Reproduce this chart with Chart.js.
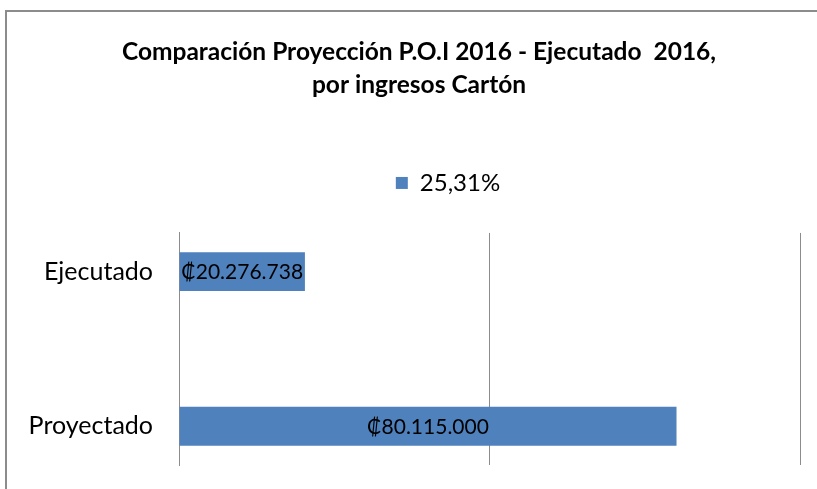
<!DOCTYPE html>
<html>
<head>
<meta charset="utf-8">
<script src="https://cdn.jsdelivr.net/npm/chart.js@4"></script>
<style>
    body { margin: 0; background: #fff; }
    canvas { display: block; }
</style>
</head>
<body>
<canvas id="myChart" width="817" height="489"></canvas>
<script>
/*-----------------------------Data-------------------------------------------------*/
// empty middle slot keeps the two bars apart the way the original sheet does
const categories = ['Ejecutado', '', 'Proyectado'];
const ingresos = [20276738, null, 80115000];
const seriesLabel = '25,31%';
const axisMax = 100000000;
const axisStep = 50000000;
const titleLines = ['Comparación Proyección P.O.I 2016 - Ejecutado  2016,', 'por ingresos Cartón'];

const barColor = '#4F81BD';
const lineColor = '#8C8C8C';
const fontFamily = 'Lato, "Liberation Sans", sans-serif';

function colones(v) {
    return '₡' + String(v).replace(/\B(?=(\d{3})+(?!\d))/g, '.');
}

/*-----------------------------Plugins-------------------------------------------------*/
const frame = {
    id: 'frame',
    beforeDraw(chart) {
        const c = chart.ctx;
        c.save();
        c.fillStyle = '#fff';
        c.fillRect(0, 0, chart.width, chart.height);
        c.strokeStyle = lineColor;
        c.lineWidth = 2;
        c.strokeRect(6, 11, chart.width + 20, chart.height + 20);
        c.restore();
    }
};

const legendGap = {
    id: 'legendGap',
    beforeInit(chart) {
        const fit = chart.legend.fit;
        chart.legend.fit = function () {
            fit.bind(chart.legend)();
            this.height += 28;
        };
    },
    afterLayout(chart) {
        // title and legend sit a bit right of centre in the original
        chart.titleBlock.left += 19;
        chart.titleBlock.right += 19;
        chart.legend.left += 48;
        chart.legend.right += 48;
    }
};

const barLabels = {
    id: 'barLabels',
    afterDatasetsDraw(chart) {
        const c = chart.ctx;
        c.save();
        c.font = '21px ' + fontFamily;
        c.fillStyle = '#000';
        c.textAlign = 'center';
        c.textBaseline = 'middle';
        chart.data.datasets.forEach(function (ds, i) {
            chart.getDatasetMeta(i).data.forEach(function (bar, j) {
                if (ds.data[j] == null) return;
                c.fillText(colones(ds.data[j]), (bar.x + bar.base) / 2, bar.y + 1);
            });
        });
        c.restore();
    }
};

/*-----------------------------Chart-------------------------------------------------*/
let ctx = document.getElementById('myChart').getContext('2d');

let barChart = new Chart(ctx, {
    type: 'bar',
    data: {
        labels: categories,
        datasets: [{
            label: seriesLabel,
            data: ingresos,
            backgroundColor: barColor,
            categoryPercentage: 1,
            barPercentage: 0.504
        }]
    },
    options: {
        indexAxis: 'y',
        responsive: false,
        animation: false,
        layout: {
            padding: { left: 0, right: 17, top: 0, bottom: 24 }
        },
        scales: {
            x: {
                min: 0,
                max: axisMax,
                ticks: { display: false, stepSize: axisStep },
                grid: { color: lineColor, lineWidth: 1, drawTicks: false },
                border: { display: false }
            },
            y: {
                grid: {
                    display: true,
                    drawOnChartArea: false,
                    drawTicks: true,
                    tickLength: 26,
                    tickColor: 'rgba(0,0,0,0)',
                    color: 'rgba(0,0,0,0)'
                },
                border: { display: true, color: lineColor, width: 1 },
                ticks: {
                    color: '#000',
                    padding: 0,
                    font: { family: fontFamily, size: 25 }
                },
                afterFit: function (scale) {
                    scale.width = 179;
                }
            }
        },
        plugins: {
            title: {
                display: true,
                text: titleLines,
                color: '#000',
                font: { family: fontFamily, size: 24.5, weight: 'bold', lineHeight: 1.35 },
                padding: { top: 35.5, bottom: 44.3 }
            },
            legend: {
                display: true,
                position: 'top',
                labels: {
                    color: '#000',
                    boxWidth: 12,
                    boxHeight: 12,
                    padding: 25,
                    font: { family: fontFamily, size: 24 }
                }
            },
            tooltip: { enabled: false }
        }
    },
    plugins: [frame, legendGap, barLabels]
});
</script>
</body>
</html>
